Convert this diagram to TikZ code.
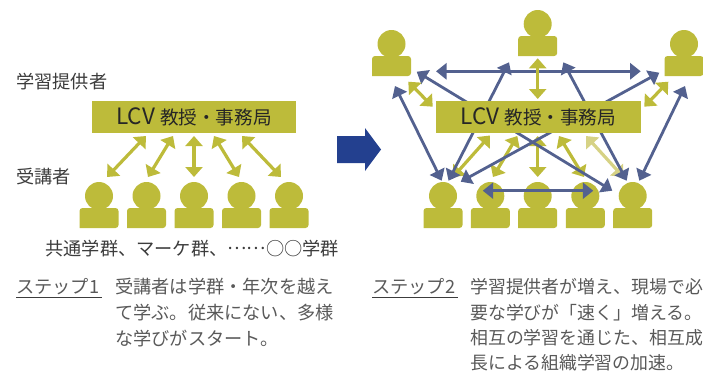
\documentclass[tikz,border=0pt]{standalone}
\usepackage{fontspec}
\setmainfont{Noto Sans CJK JP}
\usetikzlibrary{arrows.meta}
\definecolor{olv}{HTML}{BDBB3A}
\definecolor{olvl}{HTML}{D6D285}
\definecolor{slt}{HTML}{53618F}
\definecolor{nvy}{HTML}{23408F}
\definecolor{txt}{HTML}{3C3C3C}
\newcommand{\lcv}{{\fontsize{22.5}{20}\selectfont LCV}\hspace{5pt}教授・事務局}
\tikzset{
  x=1pt,y=-1pt,
  ybox/.style={fill=olv,minimum width=204.5pt,minimum height=32pt,inner sep=0pt,text=black!85,font=\fontsize{18.6}{20}\selectfont},
  lab/.style={anchor=west,inner sep=0pt,text=txt,font=\fontsize{18.2}{20}\selectfont},
  captxt/.style={anchor=west,inner sep=0pt,text=txt!85,font=\fontsize{18.2}{20}\selectfont},
  captxr/.style={captxt,font=\fontsize{17.9}{20}\selectfont},
  yarr/.style={draw=olv,line width=3.2pt,{Triangle[length=10pt,width=17pt]}-{Triangle[length=10pt,width=17pt]}},
  larr/.style={yarr,draw=olvl},
  barr/.style={draw=slt,line width=2.8pt,{Triangle[length=10.5pt,width=16pt]}-{Triangle[length=10.5pt,width=16pt]}},
  pers/.pic={
    \node[circle,fill=olv,minimum size=28pt,inner sep=0pt] (-head) at (0,-12) {};
    \fill[olv,rounded corners=3pt] (-19.5,20) -- (-19.5,0) -- (19.5,0) -- (19.5,20) [sharp corners] -- cycle;
  }
}
\begin{document}
\begin{tikzpicture}
\useasboundingbox (0,0) rectangle (703,373);

% ---- left panel
\node[lab] (provL) at (16,82) {学習提供者};
\node[lab] (recvL) at (16,177) {受講者};
\node[ybox] (boxL) at (194,117) {\lcv};
\foreach \n/\x in {a/99,b/146.5,c/194,d/241.5,e/289}
  \pic (L\n) at (\x,208) {pers};
\coordinate (Lt1) at (146,136); \coordinate (Lb1) at (107,177);
\coordinate (Lt2) at (173,136); \coordinate (Lb2) at (148,177);
\coordinate (Lt3) at (194,136); \coordinate (Lb3) at (194,177);
\coordinate (Lt4) at (214,136); \coordinate (Lb4) at (239,177);
\coordinate (Lt5) at (242,136); \coordinate (Lb5) at (281,177);
\foreach \i in {1,...,5} \draw[yarr] (Lt\i) -- (Lb\i);
\node[lab,anchor=east] (groups) at (339,249) {共通学群、マーケ群、\raisebox{6pt}{……}○○学群};

% ---- big arrow
\fill[nvy] (337,136) -- (365,136) -- (365,128) -- (381,149.5) -- (365,171) -- (365,163) -- (337,163) -- cycle;

% ---- right panel
\foreach \n/\x/\y in {a/443/208,b/490.3/208,c/537.7/208,d/585.3/208,e/632.7/208,t/537.7/36,l/391.5/56,r/684/56}
  \pic (R\n) at (\x,\y) {pers};

\coordinate (Ry1a) at (490,135.5);  \coordinate (Ry1b) at (453,177);
\coordinate (Ry2a) at (517.3,136);  \coordinate (Ry2b) at (493,177);
\coordinate (Ry3a) at (537.7,136);  \coordinate (Ry3b) at (537.7,177);
\coordinate (Ry4a) at (559,136);    \coordinate (Ry4b) at (584,177);
\coordinate (Ry5a) at (586,136);    \coordinate (Ry5b) at (623.3,177);
\draw[larr] (Ry5a) -- (Ry5b);
\foreach \i in {1,...,4} \draw[yarr] (Ry\i a) -- (Ry\i b);

\coordinate (Rb1a) at (395,86);     \coordinate (Rb1b) at (441.7,180.7);
\coordinate (Rb2a) at (685,86);     \coordinate (Rb2b) at (639.3,180.7);
\coordinate (Rb3a) at (416.7,71.7); \coordinate (Rb3b) at (612.3,190.7);
\coordinate (Rb4a) at (659.3,72.7); \coordinate (Rb4b) at (460.7,181.7);
\coordinate (Rb5a) at (509,62.3);   \coordinate (Rb5b) at (448.5,180.7);
\coordinate (Rb6a) at (563.3,62.3); \coordinate (Rb6b) at (626.7,180.7);
\coordinate (Rb7a) at (436,71.3);   \coordinate (Rb7b) at (640.7,71.3);
\coordinate (Rb8a) at (482.7,190.7);\coordinate (Rb8b) at (593.3,190.7);
\foreach \i in {1,...,8} \draw[barr] (Rb\i a) -- (Rb\i b);

\coordinate (Ry6a) at (537.7,58.3); \coordinate (Ry6b) at (537.7,99);
\coordinate (Ry7a) at (408.3,81.7); \coordinate (Ry7b) at (432.7,106.7);
\coordinate (Ry8a) at (668.3,81.7); \coordinate (Ry8b) at (644.3,106.7);
\foreach \i in {6,7,8} \draw[yarr] (Ry\i a) -- (Ry\i b);

\node[ybox] (boxR) at (538.5,117) {\lcv};

% ---- captions
\node[captxt] (s1) at (16,287) {ステップ1};
\coordinate (u1a) at (16,297); \coordinate (u1b) at (102,297);
\draw[txt,line width=0.8pt] (u1a) -- (u1b);
\node[captxt] (c1a) at (115,287) {受講者は学群・年次を越え};
\node[captxt] (c1b) at (115,313) {て学ぶ。従来にない、多様};
\node[captxt] (c1c) at (115,339) {な学びがスタート。};

\node[captxt] (s2) at (372,287) {ステップ2};
\coordinate (u2a) at (372,297); \coordinate (u2b) at (458,297);
\draw[txt,line width=0.8pt] (u2a) -- (u2b);
\node[captxr] (c2a) at (470,287) {学習提供者が増え、現場で必};
\node[captxr] (c2b) at (470,313) {要な学びが「速く」増える。};
\node[captxr] (c2c) at (470,338) {相互の学習を通じた、相互成};
\node[captxr] (c2d) at (470,363) {長による組織学習の加速。};
\end{tikzpicture}
\end{document}
